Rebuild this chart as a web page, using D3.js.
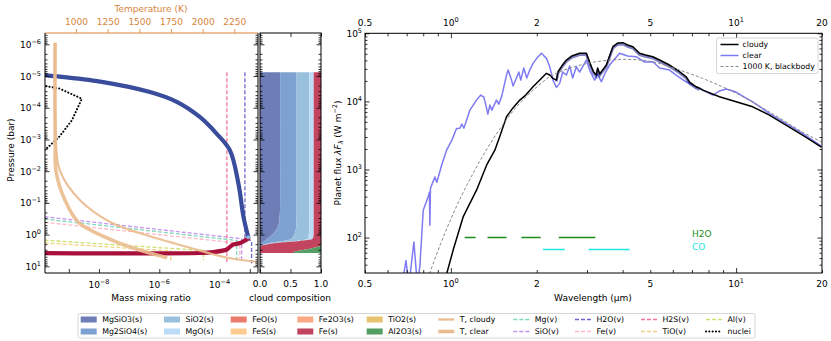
<!DOCTYPE html>
<html lang="en">
<head>
<meta charset="utf-8">
<title>Cloud structure and emission spectrum</title>
<script src="https://d3js.org/d3.v7.min.js"></script>
<style>
    body { margin: 0; background: #fff; }
    svg { display: block; font-family: "DejaVu Sans", sans-serif; }
</style>
</head>
<body>
<svg width="831" height="341"></svg>
<script>

// ---------- left panel: mass mixing ratio [mmr, pressure (bar)] ----------
const mgsio3Solid = [[5.0e-11, 8.1e-6], [1.6e-10, 9.3e-6], [1.1e-8, 1.5e-5], [4.9e-7, 3.2e-5], [3.8e-6, 6.5e-5],
    [2.2e-5, 1.95e-4], [7.9e-5, 6.5e-4], [2.2e-4, 2.2e-3], [4.2e-4, 2.45e-2], [6.2e-4, 0.275], [8.9e-4, 1.19]];
const feSolid = [[5.0e-11, 3.8], [2.2e-5, 3.8], [6.2e-5, 3.55], [1.74e-4, 2.95], [2.2e-4, 2.45],
    [2.8e-4, 2.07], [4.8e-4, 1.84], [8.9e-4, 1.33]];
const vapMg  = [[6.3e-11, 0.292], [3.7e-4, 1.53], [3.7e-4, 6.46]];
const vapSiO = [[6.3e-11, 0.247], [5.4e-4, 1.35], [5.4e-4, 6.46]];
const vapH2O = [[6.9e-4, 7.6e-6], [6.9e-4, 1.26], [1.15e-3, 1.6], [1.15e-3, 8.0]];
const vapFe  = [[6.3e-11, 0.373], [4.7e-4, 1.88], [4.7e-4, 5.6]];
const vapH2S = [[1.74e-4, 7.6e-6], [1.74e-4, 7.24]];
const vapTiO = [[6.3e-11, 1.73], [2.4e-6, 3.24], [2.4e-6, 7.46]];
const vapAl  = [[6.3e-11, 1.42], [2.9e-5, 3.16], [2.9e-5, 6.46]];
const nuclei = [[1.78e-10, 2.09e-5], [5.0e-10, 2.5e-5], [2.7e-9, 5.2e-5], [1.26e-9, 2.5e-4],
    [5.0e-10, 7.9e-4], [2.0e-10, 1.78e-3], [1.26e-10, 2.5e-3]];

// temperature profiles [T (K), pressure (bar)]
const tClear  = [[834, 8.9e-7], [834, 1e-4], [836, 1e-3], [842, 1e-2], [913, 0.083], [1016, 0.40],
    [1166, 0.91], [1427, 2.45], [1720, 5.37]];
const tCloudy = [[838, 8.9e-7], [840, 1e-3], [874, 1e-2], [1032, 0.083], [1269, 0.40], [1507, 0.91],
    [1878, 2.45], [2195, 5.37], [2432, 7.24]];

// ---------- cloud composition (fractions per pressure level) ----------
const compP     = [7.6e-6, 0.01, 0.1, 0.316, 0.631, 1.0, 1.26, 1.41, 1.58, 1.78, 2.0, 2.24, 2.51, 2.82, 3.16, 3.55, 3.8];
const fMgSiO3   = [0.33, 0.33, 0.33, 0.32, 0.28, 0.20, 0.14, 0.11, 0.08, 0.04, 0.02, 0.01, 0, 0, 0, 0, 0];
const fMg2SiO4  = [0.27, 0.27, 0.27, 0.28, 0.31, 0.36, 0.39, 0.39, 0.30, 0.15, 0.06, 0.01, 0, 0, 0, 0, 0];
const fSiO2     = [0.21, 0.21, 0.21, 0.21, 0.22, 0.24, 0.26, 0.27, 0.22, 0.11, 0.04, 0, 0, 0, 0, 0, 0];
const fMgO      = [0.07, 0.07, 0.07, 0.07, 0.07, 0.08, 0.08, 0.08, 0.05, 0.03, 0.01, 0, 0, 0, 0, 0, 0];
const fFe       = [0.12, 0.12, 0.12, 0.12, 0.12, 0.12, 0.13, 0.15, 0.35, 0.67, 0.87, 0.97, 0.92, 0.80, 0.65, 0.56, 0.54];
const fAl2O3    = [0, 0, 0, 0, 0, 0, 0, 0, 0, 0, 0, 0.01, 0.08, 0.20, 0.35, 0.44, 0.46];

// ---------- spectra: wavelength (um), planet flux (W m-2) ----------
const clearWl = [0.674, 0.696, 0.713, 0.742, 0.763, 0.779, 0.800, 0.832, 0.841, 0.844, 0.848, 0.879, 0.893, 0.928,
    0.966, 1.008, 1.047, 1.075, 1.093, 1.111, 1.166, 1.230, 1.274, 1.305, 1.334, 1.348, 1.370, 1.392, 1.445, 1.472,
    1.508, 1.567, 1.588, 1.632, 1.652, 1.698, 1.730, 1.758, 1.801, 1.845, 1.890, 1.941, 2.000, 2.078, 2.163, 2.221,
    2.280, 2.344, 2.407, 2.466, 2.541, 2.609, 2.673, 2.754, 2.828, 2.985, 3.065, 3.191, 3.270, 3.369, 3.488, 3.601,
    3.903, 4.164, 4.465, 4.775, 5.106, 5.39, 5.84, 6.23, 6.68, 7.15, 7.64, 8.28, 8.74, 9.23, 10.0, 10.69, 11.43,
    13.08, 14.96, 17.1, 19.9];
const clearFlux = [20, 46, 20, 86, 20, 39, 252, 395, 463, 152, 531, 778, 650, 1156,
    1922, 2698, 4009, 4049, 4634, 4049, 7448, 10450, 12380, 11560, 7960, 6500, 8830, 7448, 10450, 9120,
    11970, 24380, 28840, 20560, 16790, 22030, 26980, 20560, 30900, 22030, 28840, 36220, 42870, 50800, 42870, 32280,
    20560, 16070, 18400, 26980, 24380, 33040, 22030, 32280, 26980, 40480, 28840, 20560, 25180, 19410, 26980, 34200,
    50800, 46340, 45290, 37840, 38200, 30900, 28840, 23550, 19410, 16790, 14660, 12380, 14170, 15170, 13710, 11560, 9860,
    6660, 4750, 3380, 2200];
const cloudyWl = [0.960, 0.968, 1.018, 1.104, 1.230, 1.334, 1.426, 1.485, 1.567, 1.648, 1.744, 1.830, 1.941, 2.049,
    2.163, 2.221, 2.280, 2.344, 2.375, 2.447, 2.541, 2.652, 2.828, 2.985, 3.108, 3.166, 3.236, 3.270, 3.323, 3.369,
    3.508, 3.698, 3.843, 4.009, 4.164, 4.345, 4.587, 4.814, 5.106, 5.39, 5.84, 6.23, 6.68, 6.87, 7.24, 7.44, 7.64,
    8.74, 10.0, 11.43, 13.08, 14.96, 17.1, 19.9];
const cloudyFlux = [20, 30, 65, 201, 497, 1156, 1922, 3090, 5940, 7960, 10450, 12380, 16400, 20560,
    25820, 24380, 21780, 20560, 27230, 33040, 40480, 46340, 50800, 50800, 32280, 26980, 24380, 30900, 25180, 27230,
    34200, 63530, 71960, 72770, 67300, 63530, 50800, 47970, 45290, 40480, 34200, 28840, 23010, 19230, 16400, 15690, 14660,
    11690, 9860, 8330, 6290, 4480, 3190, 2130];
const bbWl   = [0.82, 0.844, 0.953, 1.075, 1.213, 1.370, 1.545, 1.744, 2.0, 2.275, 2.944, 4.0, 5.09, 5.84, 7.62, 10.02, 13.08, 17.06, 20];
const bbFlux = [18, 30, 116, 366, 977, 2355, 4966, 9440, 16220, 24380, 35400, 41450, 38200, 32280, 21780, 13120, 7030, 3570, 2520];

const h2oBands = [[1.119, 1.221], [1.344, 1.567], [1.768, 2.065], [2.388, 3.210]];
const coBands  = [[2.104, 2.506], [3.04, 4.232]];
const h2oLevel = 100, coLevel = 67;

// ---------- legend entries ----------
const solidNames  = ["MgSiO3(s)", "Mg2SiO4(s)", "SiO2(s)", "MgO(s)", "FeO(s)", "FeS(s)", "Fe2O3(s)", "Fe(s)", "TiO2(s)", "Al2O3(s)"];
const solidColors = ["#6E7DB6", "#7DA1D1", "#99C0DD", "#BCDCF7", "#E97A6C", "#FDCB8F", "#F9A983", "#C2445F", "#E6C271", "#539E63"];
const vapNames  = ["Mg(v)", "SiO(v)", "H2O(v)", "Fe(v)", "H2S(v)", "TiO(v)", "Al(v)"];
const vapColors = ["#7FD8B8", "#C594F2", "#6F66C8", "#FFBAC6", "#F2779D", "#F2D283", "#CDE070"];

// ---------- layout ----------
const svg = d3.select("svg");
const tan = "#EABB8E";
const orange = "#D9853B";

const yP = d3.scaleLog().domain([Math.pow(10, -6.357), Math.pow(10, 1.21)]).range([33, 273]);
const xM = d3.scaleLog().domain([Math.pow(10, -9.79), Math.pow(10, -2.727)]).range([45, 258]);
const xT = d3.scaleLinear().domain([755, 2437]).range([45, 258]);
const xC = d3.scaleLinear().domain([0, 1]).range([260, 321]);
const xW = d3.scaleLog().domain([0.5, 20]).range([365, 822]);
const yF = d3.scaleLog().domain([Math.pow(10, 1.48), 1e5]).range([273, 33.3]);

const defs = svg.append("defs");
function clip(id, x0, y0, x1, y1) {
    defs.append("clipPath").attr("id", id).append("rect")
        .attr("x", x0).attr("y", y0).attr("width", x1 - x0).attr("height", y1 - y0);
}
clip("clipL", 45, 33, 258, 273);
clip("clipC", 260, 33, 321, 273);
clip("clipR", 365, 33.3, 822, 273);

function logTicks(lo, hi) {
    const maj = [], min = [];
    for (let e = Math.floor(Math.log10(lo)); e <= Math.ceil(Math.log10(hi)); e++) {
        for (let k = 1; k < 10; k++) {
            const v = k * Math.pow(10, e);
            if (v < lo * 0.999 || v > hi * 1.001) continue;
            (k === 1 ? maj : min).push(v);
        }
    }
    return { maj, min };
}

function supLabel(g, x, y, exp, anchor, size, color) {
    const t = g.append("text").attr("x", x).attr("y", y).attr("text-anchor", anchor)
        .attr("font-size", size || 9).attr("fill", color || "#000");
    t.append("tspan").text("10");
    t.append("tspan").attr("dy", -4).attr("font-size", 6.5).text(String(exp).replace("-", "\u2212"));
    return t;
}

function styleAxis(g, color) {
    g.select(".domain").remove();
    g.selectAll("line").attr("stroke", color || "#000").attr("stroke-width", 0.8);
    g.selectAll("text").remove();
}

// inward y ticks on both sides of a panel
function yTicksBoth(scale, xl, xr) {
    const t = logTicks(scale.domain()[0], scale.domain()[1]);
    [[t.maj, 4.5], [t.min, 2.5]].forEach(([vals, len]) => {
        styleAxis(svg.append("g").attr("transform", `translate(${xl},0)`)
            .call(d3.axisLeft(scale).tickValues(vals).tickSize(-len)));
        styleAxis(svg.append("g").attr("transform", `translate(${xr},0)`)
            .call(d3.axisRight(scale).tickValues(vals).tickSize(-len)));
    });
}

// ================= left panel =================
const gL = svg.append("g").attr("clip-path", "url(#clipL)");
const lineMP = d3.line().x(d => xM(d[0])).y(d => yP(d[1]));

[vapMg, vapSiO, vapH2O, vapFe, vapH2S, vapTiO, vapAl].forEach((v, i) => {
    gL.append("path").datum(v).attr("d", lineMP)
        .attr("fill", "none").attr("stroke", vapColors[i]).attr("stroke-width", 1.3)
        .attr("stroke-dasharray", "4,2");
});

const smoothMP = d3.line().x(d => xM(d[0])).y(d => yP(d[1])).curve(d3.curveCatmullRom);
gL.append("path").datum(mgsio3Solid).attr("d", smoothMP)
    .attr("fill", "none").attr("stroke", "#3A4D9C").attr("stroke-width", 4.2).attr("stroke-linecap", "round");
gL.append("path").datum(feSolid).attr("d", smoothMP)
    .attr("fill", "none").attr("stroke", "#A8103C").attr("stroke-width", 4.2).attr("stroke-linecap", "round");
gL.append("circle").attr("cx", xM(8.9e-4)).attr("cy", yP(1.22)).attr("r", 2).attr("fill", "#8FB8E0");
gL.append("path").datum(nuclei).attr("d", lineMP)
    .attr("fill", "none").attr("stroke", "#000").attr("stroke-width", 2)
    .attr("stroke-linecap", "round").attr("stroke-dasharray", "0.1,3.2");

const lineTP = d3.line().x(d => xT(d[0])).y(d => yP(d[1])).curve(d3.curveCatmullRom);
gL.append("path").datum(tCloudy).attr("d", lineTP)
    .attr("fill", "none").attr("stroke", tan).attr("stroke-width", 2.2).attr("opacity", 0.9);
gL.append("path").datum(tClear).attr("d", lineTP)
    .attr("fill", "none").attr("stroke", tan).attr("stroke-width", 3.6).attr("opacity", 0.9);

// frame
svg.append("line").attr("x1", 45).attr("x2", 258).attr("y1", 33).attr("y2", 33).attr("stroke", orange).attr("stroke-width", 1.2);
svg.append("path").attr("d", "M45,33V273H258V33").attr("fill", "none").attr("stroke", "#000").attr("stroke-width", 1);

yTicksBoth(yP, 45, 258);
d3.range(-6, 2).forEach(e => supLabel(svg, 41, yP(Math.pow(10, e)) + 3.5, e, "end"));

// bottom mmr ticks
styleAxis(svg.append("g").attr("transform", "translate(0,273)")
    .call(d3.axisBottom(xM).tickValues(d3.range(-9, -2).map(e => Math.pow(10, e))).tickSize(-4)));
[-8, -6, -4].forEach(e => supLabel(svg, xM(Math.pow(10, e)), 288, e, "middle"));
svg.append("text").attr("x", 151).attr("y", 301).attr("text-anchor", "middle").attr("font-size", 9).text("Mass mixing ratio");

// top temperature axis
const gTop = svg.append("g").attr("transform", "translate(0,33)")
    .call(d3.axisTop(xT).tickValues([1000, 1250, 1500, 1750, 2000, 2250]).tickSize(4).tickFormat(d3.format("d")));
gTop.select(".domain").remove();
gTop.selectAll("line").attr("stroke", orange).attr("stroke-width", 0.8);
gTop.selectAll("text").attr("font-size", 9).attr("fill", orange).attr("font-family", "DejaVu Sans, sans-serif").attr("dy", "-0.15em");
svg.append("text").attr("x", 151).attr("y", 12).attr("text-anchor", "middle").attr("font-size", 9)
    .attr("fill", orange).text("Temperature (K)");

svg.append("text").attr("transform", "translate(14,150) rotate(-90)").attr("text-anchor", "middle")
    .attr("font-size", 9).text("Pressure (bar)");

// ================= composition panel =================
const compRows = compP.map((p, i) => ({
    p: p,
    "MgSiO3(s)": fMgSiO3[i], "Mg2SiO4(s)": fMg2SiO4[i], "SiO2(s)": fSiO2[i], "MgO(s)": fMgO[i],
    "FeO(s)": 0, "FeS(s)": 0, "Fe2O3(s)": 0, "Fe(s)": fFe[i], "TiO2(s)": 0, "Al2O3(s)": fAl2O3[i]
}));
const stacked = d3.stack().keys(solidNames)(compRows);
const areaC = d3.area().y(d => yP(d.data.p)).x0(d => xC(d[0])).x1(d => xC(d[1])).curve(d3.curveMonotoneY);
svg.append("g").attr("clip-path", "url(#clipC)").selectAll("path")
    .data(stacked).join("path")
    .attr("d", areaC)
    .attr("fill", (d, i) => solidColors[i]);

svg.append("rect").attr("x", 260).attr("y", 33).attr("width", 61).attr("height", 240)
    .attr("fill", "none").attr("stroke", "#000").attr("stroke-width", 1);
yTicksBoth(yP, 260, 321);
styleAxis(svg.append("g").attr("transform", "translate(0,273)")
    .call(d3.axisBottom(xC).tickValues([0, 0.5, 1]).tickSize(-4)));
styleAxis(svg.append("g").attr("transform", "translate(0,33)")
    .call(d3.axisTop(xC).tickValues([0, 0.5, 1]).tickSize(-4)));
[0, 0.5, 1].forEach(v => svg.append("text").attr("x", xC(v)).attr("y", 287).attr("text-anchor", "middle")
    .attr("font-size", 9).text(d3.format(".1f")(v)));
svg.append("text").attr("x", 290).attr("y", 301).attr("text-anchor", "middle").attr("font-size", 9).text("cloud composition");

// ================= spectrum panel =================
const gR = svg.append("g").attr("clip-path", "url(#clipR)");
const lineWF = d3.line().x(d => xW(d[0])).y(d => yF(d[1]));
const zip = (a, b) => a.map((v, i) => [v, b[i]]);

gR.append("path").datum(zip(clearWl, clearFlux)).attr("d", lineWF)
    .attr("fill", "none").attr("stroke", "#7E7BF2").attr("stroke-width", 1.5).attr("stroke-linejoin", "round");
gR.append("path").datum(zip(cloudyWl, cloudyFlux).filter(d => d[0] > 2.3 && d[0] < 7.5)).attr("d", lineWF)
    .attr("transform", "translate(0,1.5)")
    .attr("fill", "none").attr("stroke", "#1C1C90").attr("stroke-width", 2.5).attr("opacity", 0.55);
gR.append("path").datum(zip(cloudyWl, cloudyFlux)).attr("d", lineWF)
    .attr("fill", "none").attr("stroke", "#000").attr("stroke-width", 1.5).attr("stroke-linejoin", "round");
gR.append("path").datum(zip(bbWl, bbFlux)).attr("d", d3.line().x(d => xW(d[0])).y(d => yF(d[1])).curve(d3.curveCatmullRom))
    .attr("fill", "none").attr("stroke", "#888").attr("stroke-width", 1).attr("stroke-dasharray", "3,2");

gR.selectAll(".h2o").data(h2oBands).join("line").attr("class", "h2o")
    .attr("x1", d => xW(d[0])).attr("x2", d => xW(d[1]))
    .attr("y1", yF(h2oLevel)).attr("y2", yF(h2oLevel))
    .attr("stroke", "#1E8C1E").attr("stroke-width", 1.5);
gR.selectAll(".co").data(coBands).join("line").attr("class", "co")
    .attr("x1", d => xW(d[0])).attr("x2", d => xW(d[1]))
    .attr("y1", yF(coLevel)).attr("y2", yF(coLevel))
    .attr("stroke", "#22E6E6").attr("stroke-width", 1.5);
svg.append("text").attr("x", 692).attr("y", 237).attr("font-size", 9).attr("fill", "#1E8C1E").text("H2O");
svg.append("text").attr("x", 692).attr("y", 250).attr("font-size", 9).attr("fill", "#22E6E6").text("CO");

svg.append("rect").attr("x", 365).attr("y", 33.3).attr("width", 457).attr("height", 239.7)
    .attr("fill", "none").attr("stroke", "#000").attr("stroke-width", 1);
yTicksBoth(yF, 365, 822);
[2, 3, 4, 5].forEach(e => supLabel(svg, 362, yF(Math.pow(10, e)) + 3.5, e, "end"));

const wt = logTicks(0.5, 20);
[[wt.maj, 5], [wt.min, 3]].forEach(([vals, len]) => {
    styleAxis(svg.append("g").attr("transform", "translate(0,273)")
        .call(d3.axisBottom(xW).tickValues(vals).tickSize(-len)));
    styleAxis(svg.append("g").attr("transform", "translate(0,33.3)")
        .call(d3.axisTop(xW).tickValues(vals).tickSize(-len)));
});
[[0.5, "0.5"], [2, "2"], [5, "5"], [20, "20"]].forEach(([v, s]) => {
    svg.append("text").attr("x", xW(v)).attr("y", 287).attr("text-anchor", "middle").attr("font-size", 9).text(s);
    svg.append("text").attr("x", xW(v)).attr("y", 26).attr("text-anchor", "middle").attr("font-size", 9).text(s);
});
[[1, 0], [10, 1]].forEach(([v, e]) => {
    supLabel(svg, xW(v), 287, e, "middle");
    supLabel(svg, xW(v), 26, e, "middle");
});
svg.append("text").attr("x", 593).attr("y", 301).attr("text-anchor", "middle").attr("font-size", 9).text("Wavelength (\u03bcm)");
const yl = svg.append("text").attr("transform", "translate(341,153) rotate(-90)").attr("text-anchor", "middle").attr("font-size", 9);
yl.append("tspan").text("Planet flux ");
yl.append("tspan").attr("font-style", "italic").text("\u03bbF");
yl.append("tspan").attr("font-style", "italic").attr("font-size", 6.5).attr("dy", 2).text("\u03bb");
yl.append("tspan").attr("dy", -2).text(" (W m");
yl.append("tspan").attr("font-size", 6.5).attr("dy", -4).text("\u22122");
yl.append("tspan").attr("dy", 4).text(")");

// spectrum legend
const gLeg = svg.append("g").attr("transform", "translate(716.5,38)");
gLeg.append("rect").attr("width", 101.5).attr("height", 35.5).attr("rx", 2)
    .attr("fill", "#fff").attr("stroke", "#ccc").attr("stroke-width", 0.8);
[["cloudy", "#000", null, 1.5], ["clear", "#7E7BF2", null, 1.5], ["1000 K, blackbody", "#888", "3,2", 1]].forEach((d, i) => {
    const y = 6.5 + i * 11;
    gLeg.append("line").attr("x1", 4).attr("x2", 22).attr("y1", y).attr("y2", y)
        .attr("stroke", d[1]).attr("stroke-width", d[3]).attr("stroke-dasharray", d[2]);
    gLeg.append("text").attr("x", 26).attr("y", y + 2.8).attr("font-size", 7.8).text(d[0]);
});

// ================= bottom legend =================
const gB = svg.append("g").attr("transform", "translate(78,313.5)");
gB.append("rect").attr("width", 677).attr("height", 24.5).attr("rx", 2)
    .attr("fill", "#fff").attr("stroke", "#ccc").attr("stroke-width", 0.8);
const colX = [2.7, 86, 152.7, 219.3, 288.7, 360.3, 435.3, 497, 563, 628];
const rowY = [6, 18];
solidNames.forEach((n, i) => {
    const cx = colX[Math.floor(i / 2)], cy = rowY[i % 2];
    gB.append("rect").attr("x", cx).attr("y", cy - 3).attr("width", 16).attr("height", 6).attr("fill", solidColors[i]);
    gB.append("text").attr("x", cx + 21.5).attr("y", cy + 2.8).attr("font-size", 7.8).text(n);
});
const lineItems = [["T, cloudy", tan, null, 2.2], ["T, clear", tan, null, 3.6]]
    .concat(vapNames.map((n, i) => [n, vapColors[i], "4,2", 1.5]))
    .concat([["nuclei", "#000", "0.1,3.2", 2]]);
lineItems.forEach((d, i) => {
    const cx = colX[5 + Math.floor(i / 2)], cy = rowY[i % 2];
    gB.append("line").attr("x1", cx).attr("x2", cx + 16).attr("y1", cy).attr("y2", cy)
        .attr("stroke", d[1]).attr("stroke-width", d[3]).attr("stroke-dasharray", d[2])
        .attr("stroke-linecap", d[0] === "nuclei" ? "round" : "butt");
    gB.append("text").attr("x", cx + 21.5).attr("y", cy + 2.8).attr("font-size", 7.8).text(d[0]);
});

</script>
</body>
</html>
